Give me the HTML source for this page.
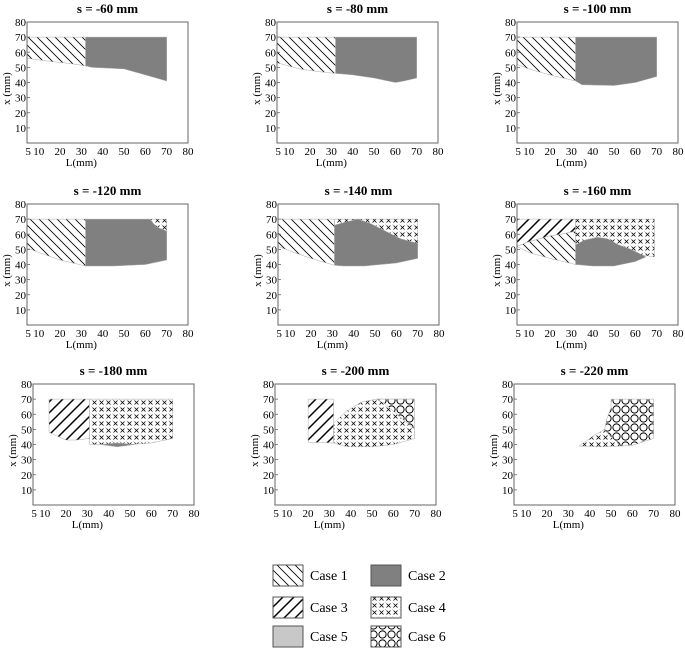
<!DOCTYPE html>
<html><head><meta charset="utf-8">
<style>
html,body{margin:0;padding:0;background:#fff;}
svg{display:block;font-family:"Liberation Serif",serif;}
svg text{font-family:"Liberation Serif",serif;}
</style></head>
<body>
<svg id="fig" width="685" height="656" viewBox="0 0 685 656">
<defs>
<pattern id="p1" patternUnits="userSpaceOnUse" width="9" height="9"><rect width="9" height="9" fill="#fff"/><path d="M-2,-2 L11,11 M-2,7 L2,11 M7,-2 L11,2" stroke="#000" stroke-width="0.8"/></pattern>
<pattern id="p2" patternUnits="userSpaceOnUse" width="8" height="8"><rect width="8" height="8" fill="#808080"/></pattern>
<pattern id="p3" patternUnits="userSpaceOnUse" width="11" height="11"><rect width="11" height="11" fill="#fff"/><path d="M-2,13 L13,-2 M-2,2 L2,-2 M9,13 L13,9" stroke="#000" stroke-width="1.5"/></pattern>
<pattern id="p4" patternUnits="userSpaceOnUse" width="7" height="7"><rect width="7" height="7" fill="#fff"/><circle cx="0.5" cy="0.5" r="0.4" fill="#aaa"/><path d="M1.5,1.5 L5.5,5.5 M5.5,1.5 L1.5,5.5" stroke="#000" stroke-width="0.8"/></pattern>
<pattern id="p5" patternUnits="userSpaceOnUse" width="8" height="8"><rect width="8" height="8" fill="#c8c8c8"/></pattern>
<pattern id="p6" patternUnits="userSpaceOnUse" width="9" height="9"><rect width="9" height="9" fill="#fff"/><circle cx="4.5" cy="4.5" r="3.6" fill="none" stroke="#000" stroke-width="1"/></pattern>
</defs>
<g id="panels"></g>
<g id="legend"></g>
</svg>
<script>
const panelTitles = ["s = -60 mm","s = -80 mm","s = -100 mm","s = -120 mm","s = -140 mm","s = -160 mm","s = -180 mm","s = -200 mm","s = -220 mm"];
const xTicks = [5,10,20,30,40,50,60,70,80];
const xTickLabels = ["5","10","20","30","40","50","60","70","80"];
const yTicks = [10,20,30,40,50,60,70,80];
const regions60 = [
 [1, [[4.5,70],[32,70],[32,51],[25,52.5],[15,54],[4.5,56]]],
 [2, [[32,70],[70,70],[70,41],[60,45],[50,49],[35,50],[32,51]]]];
const regions80 = [
 [1, [[4.5,70],[32,70],[32,46],[25,47],[15,49],[4.5,53]]],
 [2, [[32,70],[70,70],[70,43],[64,41],[60,40],[50,43],[40,45],[32,46]]]];
const regions100 = [
 [1, [[4.5,70],[32,70],[32,41],[20,45],[10,49],[4.5,52]]],
 [2, [[32,70],[70,70],[70,44],[60,40],[50,38],[35,38.5],[32,41]]]];
const regions120 = [
 [1, [[4.5,70],[32,70],[32,39],[20,43],[10,48],[4.5,51]]],
 [4, [[62,70],[70,70],[70,62],[65,65]]],
 [2, [[32,70],[62,70],[65,65],[70,62],[70,43],[60,40],[45,39],[32,39]]]];
const regions140 = [
 [1, [[4.5,70],[31,70],[31,39.5],[20,44],[10,49],[4.5,52]]],
 [4, [[31,70],[70,70],[70,54],[31,66]]],
 [2, [[31,66],[36,68],[42,70],[48,67],[55,62],[62,57],[67,55],[70,54],[70,44],[60,41],[45,39],[35,39],[31,39.5]]]];
const regions160 = [
 [3, [[4.5,70],[32,70],[32,62],[25,60],[20,59],[15,57],[10,55],[4.5,52]]],
 [1, [[4.5,52],[10,55],[15,57],[20,59],[25,60],[32,62],[32,40],[20,44],[10,48]]],
 [4, [[32,70],[69,70],[69,45],[32,53]]],
 [2, [[32,53],[36,56],[42,58],[47,57],[52,53],[58,50],[65,45],[60,42],[50,39],[40,39],[32,40]]]];
const regions180 = [
 [3, [[12,70],[31,70],[31,44],[25,43],[20,43],[12,48]]],
 [4, [[31,70],[70,70],[70,44],[60,41],[50,40],[40,40],[31,40]]],
 [2, [[36,40],[44,41],[52,40],[44,38.5]]]];
const regions200 = [
 [3, [[20,70],[32,70],[32,41],[20,41.5]]],
 [4, [[32,41],[32,54],[38,62],[45,68],[52,70],[70,70],[70,44],[60,40],[50,38.5],[38,38.5]]],
 [6, [[52,70],[70,70],[70,50],[65,56],[60,62],[56,67]]]];
const regions220 = [
 [4, [[35,39],[42,46],[47,50],[50,45],[55,39],[45,38.5]]],
 [6, [[50,70],[70,70],[70,44],[60,39.5],[55,39],[50,45],[47,50],[48,57],[50,64]]]];
const allRegions = [regions60,regions80,regions100,regions120,regions140,regions160,regions180,regions200,regions220];
const panelOrigins = [[27,22],[277,22],[517,22],[27,204],[278,204],[517,204],[33,384],[275,384],[514,384]];
const legendLabels = ["Case 1","Case 2","Case 3","Case 4","Case 5","Case 6"];

const NS="http://www.w3.org/2000/svg";
const W=161,H=121,L0=4.5,L1=80,X0=0,X1=80;
function mk(tag,attrs,parent){const e=document.createElementNS(NS,tag);for(const k in attrs)e.setAttribute(k,attrs[k]);parent.appendChild(e);return e;}
const root=document.getElementById('panels');
allRegions.forEach((regs,i)=>{
  const [ox,oy]=panelOrigins[i];
  const sx=L=>ox+(L-L0)/(L1-L0)*W;
  const sy=x=>oy+(X1-x)/(X1-X0)*H;
  const g=mk('g',{},root);
  
  
  const t=mk('text',{x:ox+W/2,y:oy-9,'text-anchor':'middle','font-size':'13','font-weight':'bold'},g);
  t.textContent=panelTitles[i];
  
  
  regs.forEach(([c,pts])=>{
    const p=mk('polygon',{points:pts.map(q=>sx(q[0]).toFixed(1)+','+sy(q[1]).toFixed(1)).join(' '),fill:'url(#p'+c+')',stroke:'#aaa','stroke-width':'0.5'},g);
    
    
  });
  const fr=mk('rect',{x:ox,y:oy,width:W,height:H,fill:'none',stroke:'#666','stroke-width':'1'},g);
  
  
  xTicks.forEach((v,k)=>{
    const tx=mk('text',{x:sx(v),y:oy+H+12,'text-anchor':'middle','font-size':'11'},g);
    tx.textContent=xTickLabels[k];
    
    
  });
  yTicks.forEach(v=>{
    mk('line',{x1:ox,x2:ox+3,y1:sy(v),y2:sy(v),stroke:'#666','stroke-width':'0.8'},g);
    const ty=mk('text',{x:ox-1,y:sy(v)+4,'text-anchor':'end','font-size':'11'},g);
    ty.textContent=String(v);
    
    
  });
  const xl=mk('text',{x:sx(30),y:oy+H+23,'text-anchor':'middle','font-size':'11'},g);
  xl.textContent='L(mm)';
  
  
  const yl=mk('text',{x:0,y:0,'text-anchor':'middle','font-size':'11',transform:'translate('+(ox-17)+','+(oy+H*0.55)+') rotate(-90)'},g);
  yl.textContent='x (mm)';
  
  
});
const lg=document.getElementById('legend');
const legX=[273,371],legY=[565,597,626],legTX=[310,408];
legendLabels.forEach((lab,k)=>{
  const col=k%2,row=Math.floor(k/2);
  const e=mk('g',{},lg);
  
  
  mk('rect',{x:legX[col],y:legY[row],width:30,height:21,fill:'url(#p'+(k+1)+')',stroke:'#555','stroke-width':'1'},e);
  const t=mk('text',{x:legTX[col],y:legY[row]+15,'font-size':'14'},e);
  t.textContent=lab;
});
</script>
</body></html>
